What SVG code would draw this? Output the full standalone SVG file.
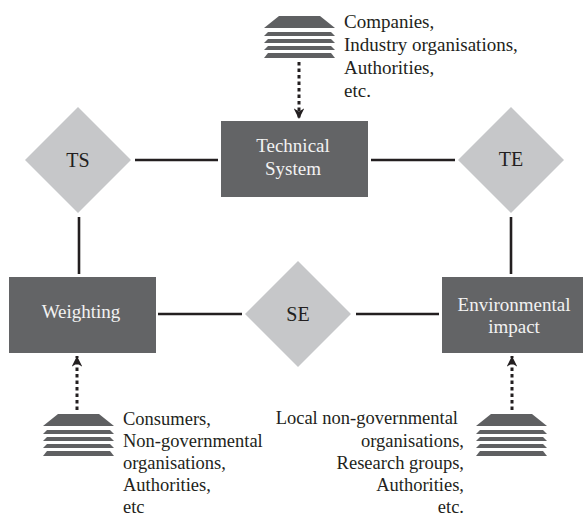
<svg xmlns="http://www.w3.org/2000/svg" width="583" height="517" viewBox="0 0 583 517">
<style>
text{font-family:"Liberation Serif","DejaVu Serif",serif}
.box{fill:#636466}
.dia{fill:#c6c7c9}
.bt{font-size:19px;fill:#f2f2f2;text-anchor:middle}
.dt{font-size:20px;fill:#231f20;text-anchor:middle}
.lt{font-size:18.5px;fill:#231f20}
.tt{font-size:19px}
.ln{stroke:#231f20;stroke-width:2.6;fill:none}
.dot{stroke:#231f20;stroke-width:3;stroke-dasharray:3.5,3;fill:none}
.stk{fill:#5f6062}
</style>
<defs>
<marker id="ah" viewBox="0 0 10 10" refX="10" refY="5" markerWidth="3.6" markerHeight="3.6" markerUnits="strokeWidth" orient="auto">
<path d="M0,0 L10,5 L0,10 L3,5 z" fill="#231f20"/>
</marker>
<g id="stack">
<polygon points="15,0 56,0 71,12 0,12"/>
<polygon points="4,16 67,16 71,20 0,20"/>
<polygon points="4,23 67,23 71,27 0,27"/>
<polygon points="4,30 67,30 71,34 0,34"/>
<polygon points="4,37 67,37 71,42 0,42"/>
</g>
</defs>
<g id="connectors">
<line class="ln" x1="135" y1="160" x2="218" y2="160"/>
<line class="ln" x1="371" y1="160" x2="455" y2="160"/>
<line class="ln" x1="79" y1="217" x2="79" y2="274"/>
<line class="ln" x1="511" y1="217" x2="511" y2="274"/>
<line class="ln" x1="158" y1="314" x2="242" y2="314"/>
<line class="ln" x1="356" y1="314" x2="439" y2="314"/>
<line class="dot" x1="299" y1="62" x2="299" y2="119" marker-end="url(#ah)"/>
<line class="dot" x1="77" y1="410" x2="77" y2="356" marker-end="url(#ah)"/>
<line class="dot" x1="512" y1="410" x2="512" y2="356" marker-end="url(#ah)"/>
</g>
<g id="technical-system">
<rect class="box" x="221" y="121" width="147" height="76"/>
<text class="bt" x="293" y="152">Technical</text>
<text class="bt" x="293" y="175">System</text>
</g>
<g id="weighting">
<rect class="box" x="9" y="277" width="147" height="76"/>
<text class="bt" x="81" y="318">Weighting</text>
</g>
<g id="environmental-impact">
<rect class="box" x="442" y="277" width="141" height="76"/>
<text class="bt" x="514" y="311">Environmental</text>
<text class="bt" x="514" y="333">impact</text>
</g>
<g id="ts">
<polygon class="dia" points="78,107 131,160 78,213 25,160"/>
<text class="dt" x="78" y="167">TS</text>
</g>
<g id="te">
<polygon class="dia" points="511,107 564,160 511,213 458,160"/>
<text class="dt" x="511" y="166">TE</text>
</g>
<g id="se">
<polygon class="dia" points="298,261 351,314 298,367 245,314"/>
<text class="dt" x="298" y="321">SE</text>
</g>
<g id="stakeholders-top">
<use href="#stack" class="stk" x="264" y="16"/>
<text class="lt tt" x="344" y="28">Companies,</text>
<text class="lt tt" x="344" y="51">Industry organisations,</text>
<text class="lt tt" x="344" y="74">Authorities,</text>
<text class="lt tt" x="344" y="97">etc.</text>
</g>
<g id="stakeholders-left">
<use href="#stack" class="stk" x="43" y="414"/>
<text class="lt" x="123" y="425">Consumers,</text>
<text class="lt" x="123" y="447">Non-governmental</text>
<text class="lt" x="123" y="469">organisations,</text>
<text class="lt" x="123" y="491">Authorities,</text>
<text class="lt" x="123" y="513">etc</text>
</g>
<g id="stakeholders-right">
<use href="#stack" class="stk" x="476" y="414"/>
<text class="lt" x="458" y="424" text-anchor="end">Local non-governmental</text>
<text class="lt" x="464" y="447" text-anchor="end">organisations,</text>
<text class="lt" x="464" y="469" text-anchor="end">Research groups,</text>
<text class="lt" x="464" y="491" text-anchor="end">Authorities,</text>
<text class="lt" x="464" y="513" text-anchor="end">etc.</text>
</g>
</svg>
